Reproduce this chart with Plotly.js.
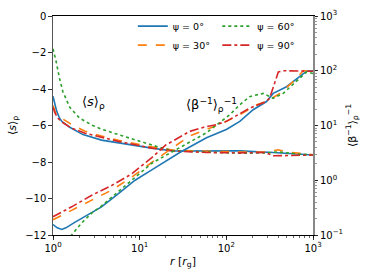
<!DOCTYPE html>
<html><head><meta charset="utf-8">
<script src="https://cdn.plot.ly/plotly-3.0.1.min.js"></script>
<style>body{margin:0;padding:0;background:#fff}#chart{width:374px;height:280px}</style>
</head><body><div id="chart"></div>
<script>
// ---- data ----
const labels = ["\u03c8 = 0\u00b0", "\u03c8 = 30\u00b0", "\u03c8 = 60\u00b0", "\u03c8 = 90\u00b0"];

const rS0 = [1, 1.05, 1.1, 1.19, 1.26, 1.56, 2.22, 3.63, 5.69, 8.85, 13.8, 24.3, 58.9, 143, 347, 537, 1000];
const s0  = [-4.4, -4.8, -5.2, -5.6, -5.77, -6.1, -6.5, -6.8, -6.95, -7.12, -7.24, -7.4, -7.38, -7.39, -7.48, -7.55, -7.62];
const rS30 = [1, 1.07, 1.26, 1.64, 2.34, 3.63, 5.69, 8.85, 13.8, 24.3, 58.9, 143, 282, 398, 501, 1000];
const s30  = [-4.9, -5.3, -5.6, -5.95, -6.31, -6.58, -6.81, -6.99, -7.17, -7.35, -7.42, -7.45, -7.45, -7.33, -7.45, -7.6];
const rS60 = [1, 1.09, 1.19, 1.3, 1.56, 2.03, 2.88, 3.63, 5.69, 8.85, 13.8, 17.0, 24.5, 58.9, 143, 282, 398, 631, 1000];
const s60  = [-1.8, -2.52, -3.43, -4.15, -5.0, -5.6, -6.0, -6.2, -6.5, -6.78, -7.03, -7.2, -7.38, -7.45, -7.52, -7.5, -7.45, -7.55, -7.62];
const rS90 = [1, 1.05, 1.14, 1.26, 1.64, 2.34, 5.69, 13.8, 24.3, 58.9, 143, 282, 347, 1000];
const s90  = [-5.0, -5.3, -5.6, -5.8, -6.15, -6.42, -6.87, -7.24, -7.4, -7.48, -7.5, -7.48, -7.66, -7.62];

const rB0 = [1, 1.12, 1.26, 1.41, 1.78, 2.34, 3.63, 5.69, 8.85, 13.8, 29.0, 59.0, 100, 143, 204, 291, 347, 495, 706, 843, 1000];
const b0  = [0.155, 0.135, 0.126, 0.135, 0.17, 0.216, 0.327, 0.571, 1.0, 1.55, 3.21, 5.98, 8.47, 11.9, 19.4, 27.4, 38.6, 51.1, 77.3, 98, 100];
const rB30 = [1, 1.64, 2.80, 4.76, 8.11, 13.8, 37.8, 91.8, 143, 224, 291, 415, 590, 771, 1000];
const b30  = [0.19, 0.286, 0.433, 0.661, 1.14, 2.12, 6.46, 11.1, 15.8, 23.9, 27.4, 38.6, 63.1, 100, 100];
const rB60 = [1.5, 1.64, 2.14, 2.80, 3.63, 5.69, 8.85, 13.8, 59.0, 110, 143, 186, 266, 347, 453, 646, 843, 1000];
const b60  = [0.075, 0.1, 0.166, 0.251, 0.34, 0.62, 1.15, 2.05, 7.36, 15.8, 23.9, 33.7, 38.6, 31.4, 38.6, 63.1, 95, 89];
const rB90 = [1, 1.64, 2.80, 4.76, 8.11, 13.8, 20.0, 28.8, 37.8, 55.0, 77.1, 100, 186, 288, 316, 398, 453, 1000];
const b90  = [0.216, 0.327, 0.532, 0.805, 1.31, 2.6, 4.4, 6.2, 7.8, 9.3, 10.4, 11.9, 20.7, 27.5, 31.6, 95, 100, 98];

const xTickVals = [1, 10, 100, 1000];
const xTickText = ["10<sup>0</sup>", "10<sup>1</sup>", "10<sup>2</sup>", "10<sup>3</sup>"];
const y2TickVals = [0.1, 1, 10, 100, 1000];
const y2TickText = ["10<sup>\u22121</sup>", "10<sup>0</sup>", "10<sup>1</sup>", "10<sup>2</sup>", "10<sup>3</sup>"];

// ---- styles ----
const colors = ["#1f77b4", "#ff7f0e", "#2ca02c", "#d62728"];
const dashes = ["solid", "dash", "dot", "dashdot"];
const sSets = [[rS0, s0], [rS30, s30], [rS60, s60], [rS90, s90]];
const bSets = [[rB0, b0], [rB30, b30], [rB60, b60], [rB90, b90]];
const legendOf = ["legend", "legend", "legend2", "legend2"];

const traces = [];
for (let i = 0; i < 4; i++) {
  traces.push({x: sSets[i][0], y: sSets[i][1], mode: "lines", name: labels[i],
    line: {color: colors[i], dash: dashes[i], width: 1.6}, showlegend: true,
    legend: legendOf[i], xaxis: "x", yaxis: "y"});
  traces.push({x: bSets[i][0], y: bSets[i][1], mode: "lines", name: labels[i],
    line: {color: colors[i], dash: dashes[i], width: 1.6}, showlegend: false,
    xaxis: "x", yaxis: "y2"});
}

const font = {family: "DejaVu Sans", size: 10, color: "#000"};
const layout = {
  width: 374, height: 280,
  margin: {l: 53, r: 61, t: 13, b: 45},
  paper_bgcolor: "#fff", plot_bgcolor: "#fff",
  font: font,
  xaxis: {type: "log", range: [0, 3], tickvals: xTickVals, ticktext: xTickText,
    ticks: "outside", ticklen: 3.5, tickwidth: 0.8, tickcolor: "#000",
    minor: {ticks: "outside", ticklen: 2, tickwidth: 0.6, tickcolor: "#000", dtick: "D1"},
    showline: true, linecolor: "#000", linewidth: 1, mirror: true,
    showgrid: false, zeroline: false,
    title: {text: "<i>r</i> [<i>r</i><sub>g</sub>]", font: {size: 11}, standoff: 4}},
  yaxis: {range: [-12, 0], tickvals: [-12, -10, -8, -6, -4, -2, 0],
    ticks: "outside", ticklen: 3.5, tickwidth: 0.8, tickcolor: "#000",
    showline: true, linecolor: "#555", linewidth: 1.2,
    showgrid: false, zeroline: false,
    title: {text: "\u27e8<i>s</i>\u27e9<sub>\u03c1</sub>", font: {size: 11}, standoff: 6}},
  yaxis2: {type: "log", range: [-1, 3], overlaying: "y", side: "right",
    tickvals: y2TickVals, ticktext: y2TickText,
    ticks: "outside", ticklen: 3.5, tickwidth: 0.8, tickcolor: "#000",
    minor: {ticks: "outside", ticklen: 2, tickwidth: 0.6, tickcolor: "#555", dtick: "D1"},
    showline: true, linecolor: "#888", linewidth: 1.5,
    showgrid: false, zeroline: false,
    title: {text: "\u27e8\u03b2<sup>\u22121</sup>\u27e9<sub>\u03c1</sub><sup>\u22121</sup>", font: {size: 11}, standoff: 6}},
  legend: {x: 0.307, y: 1.02, xanchor: "left", yanchor: "top", bgcolor: "rgba(0,0,0,0)",
    font: {size: 9.5}, tracegroupgap: 0, itemwidth: 30},
  legend2: {x: 0.632, y: 1.02, xanchor: "left", yanchor: "top", bgcolor: "rgba(0,0,0,0)",
    font: {size: 9.5}, tracegroupgap: 0, itemwidth: 30},
  annotations: [
    {xref: "paper", yref: "paper", x: 0.105, y: 0.604, xanchor: "left", text: "\u27e8<i>s</i>\u27e9<sub>\u03c1</sub>",
     showarrow: false, font: {size: 13}},
    {xref: "paper", yref: "paper", x: 0.611, y: 0.595,
     text: "\u27e8\u03b2<sup>\u22121</sup>\u27e9<sub>\u03c1</sub><sup>\u22121</sup>",
     showarrow: false, font: {size: 13}}
  ]
};
Plotly.newPlot("chart", traces, layout, {staticPlot: true, displayModeBar: false});
</script></body></html>
